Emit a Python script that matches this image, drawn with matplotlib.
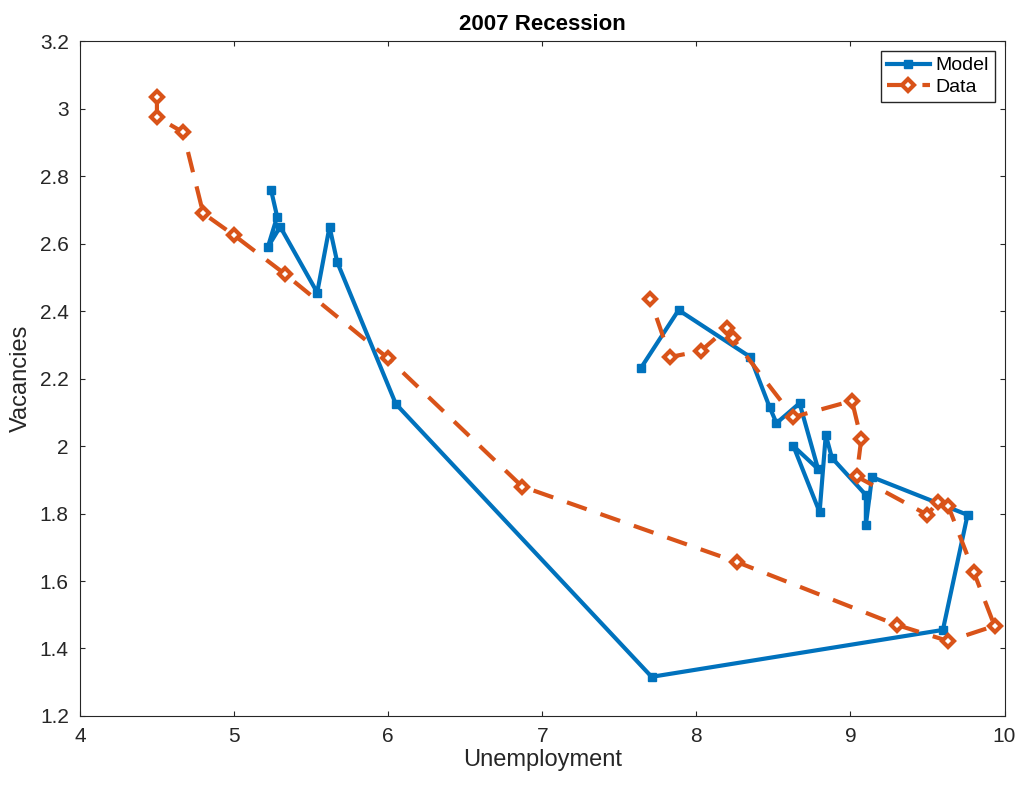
import matplotlib
matplotlib.use("Agg")
import matplotlib.pyplot as plt

plt.rcParams["font.family"] = ["Liberation Sans", "DejaVu Sans"]

# Model path
model_u = [5.24, 5.28, 5.22, 5.30, 5.54, 5.62, 5.67, 6.05, 7.71, 9.60, 9.76, 9.14,
           9.10, 9.10, 8.88, 8.84, 8.80, 8.63, 8.79, 8.67, 8.52, 8.475, 8.35, 7.885, 7.64]
model_v = [2.76, 2.68, 2.59, 2.65, 2.455, 2.65, 2.545, 2.125, 1.316, 1.455, 1.796, 1.908,
           1.766, 1.855, 1.965, 2.033, 1.804, 2.0, 1.932, 2.127, 2.068, 2.116, 2.264, 2.403, 2.231]

# Data path
data_u = [4.50, 4.50, 4.67, 4.80, 5.00, 5.33, 6.00, 6.87, 8.265, 9.30, 9.635, 9.935,
          9.80, 9.635, 9.565, 9.50, 9.04, 9.07, 9.01, 8.63, 8.235, 8.20, 8.03, 7.83, 7.70]
data_v = [3.035, 2.975, 2.93, 2.69, 2.625, 2.51, 2.26, 1.88, 1.656, 1.47, 1.422, 1.467,
          1.627, 1.822, 1.834, 1.796, 1.91, 2.02, 2.134, 2.086, 2.32, 2.35, 2.282, 2.264, 2.436]

blue = "#0072BD"
orange = "#D95319"

fig = plt.figure(figsize=(10.24, 7.92), dpi=100)
ax = fig.add_axes([0.078, 0.096, 0.903, 0.852])

ax.plot(model_u, model_v, "-s", color=blue, linewidth=3, markersize=6, label="Model")
ax.plot(data_u, data_v, "--D", color=orange, linewidth=3, markersize=6,
        markerfacecolor="white", markeredgewidth=3, dashes=(5, 3.5), label="Data")

ax.set_xlim(4, 10)
ax.set_ylim(1.2, 3.2)
ax.set_xticks([4, 5, 6, 7, 8, 9, 10])
ax.set_yticks([1.2, 1.4, 1.6, 1.8, 2, 2.2, 2.4, 2.6, 2.8, 3, 3.2])
ax.set_yticklabels(["1.2", "1.4", "1.6", "1.8", "2", "2.2", "2.4", "2.6", "2.8", "3", "3.2"])
ax.tick_params(direction="in", labelsize=15, top=True, right=True, colors="#262626", pad=8)
for s in ax.spines.values():
    s.set_color("#262626")
ax.set_xlabel("Unemployment", fontsize=17, color="#262626", labelpad=2)
ax.set_ylabel("Vacancies", fontsize=17, color="#262626", labelpad=6)
ax.set_title("2007 Recession", fontsize=16, fontweight="bold", pad=8)
ax.legend(loc="upper right", fontsize=14, fancybox=False, edgecolor="#262626",
          handlelength=2.2, handletextpad=0.3, borderpad=0.3, labelspacing=0.2, framealpha=1)

fig.savefig("out.png", dpi=100)
